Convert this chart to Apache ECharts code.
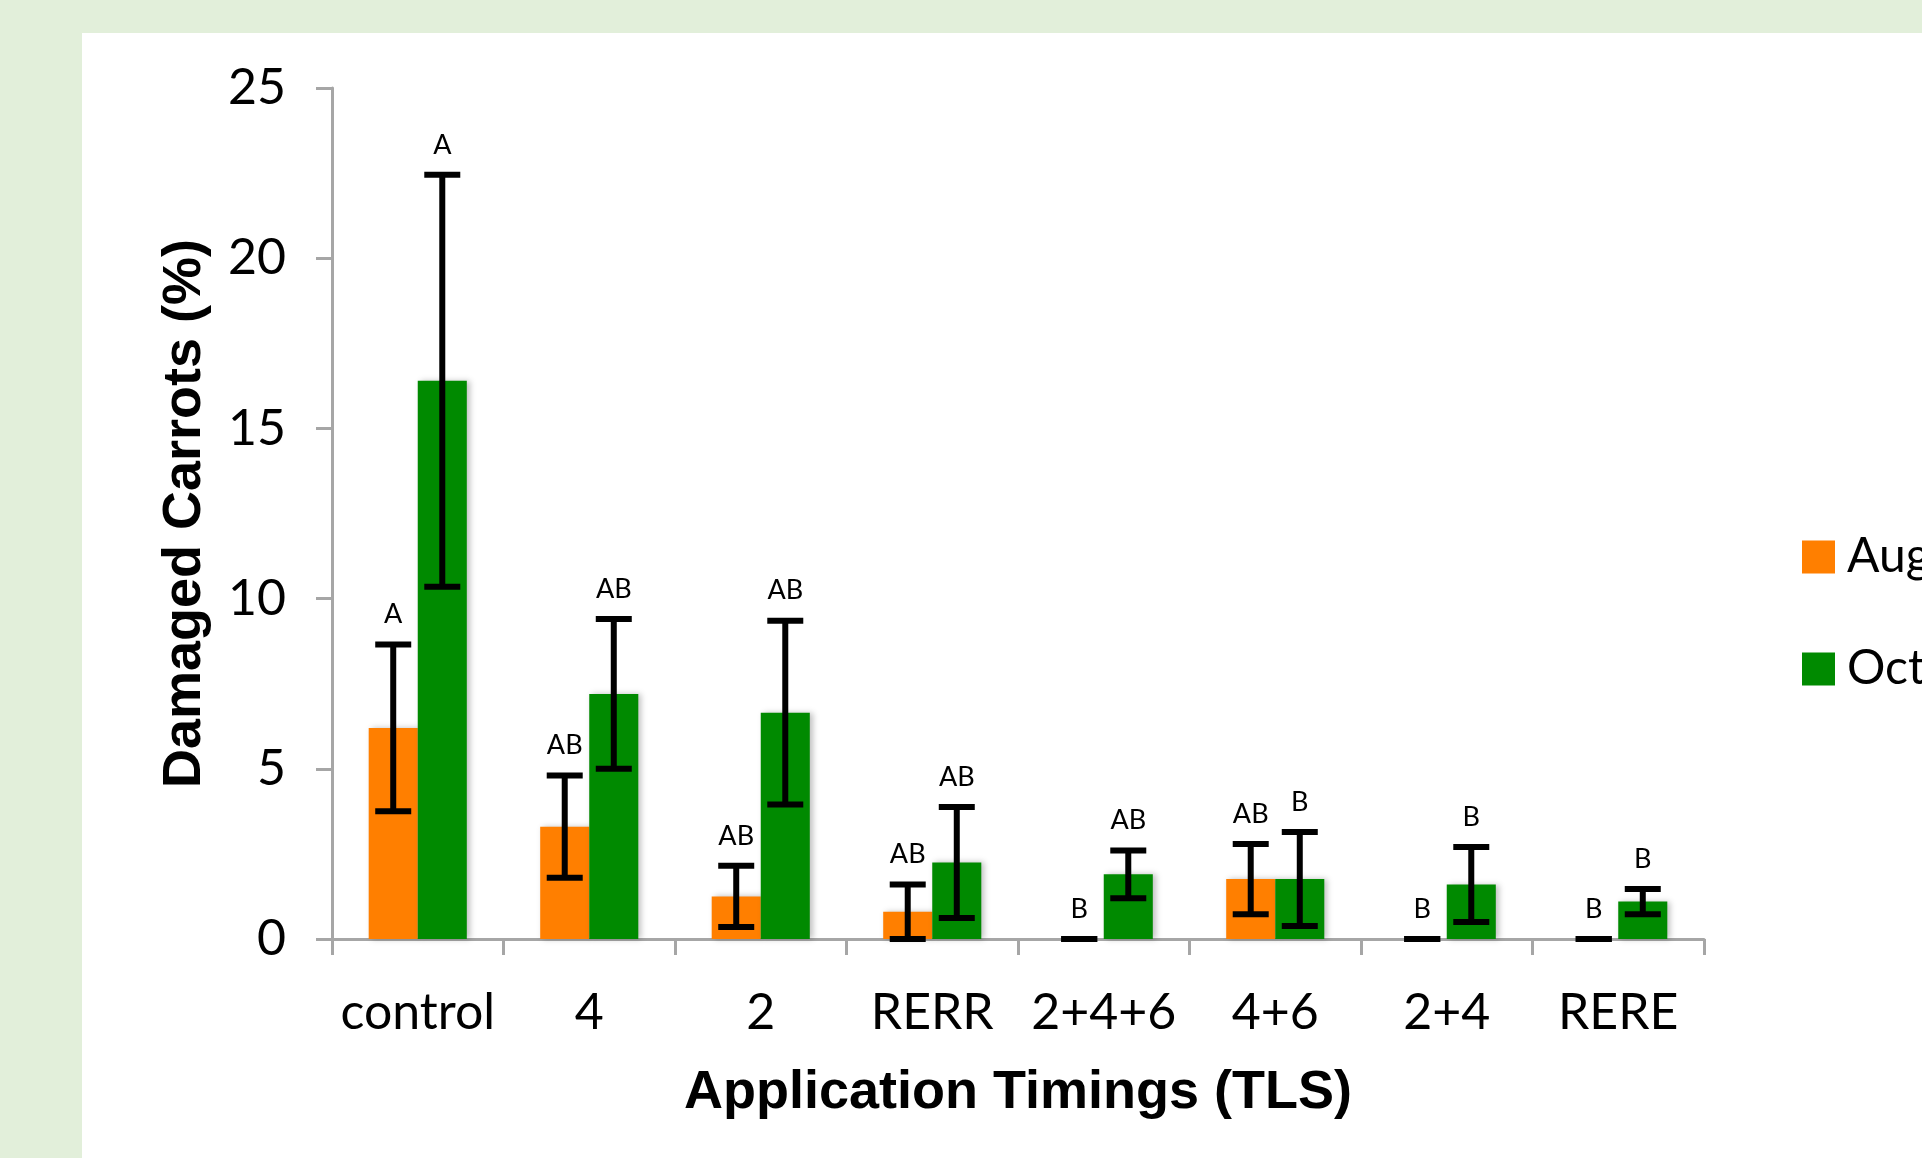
<!DOCTYPE html>
<html>
<head>
<meta charset="utf-8">
<script src="https://cdn.jsdelivr.net/npm/echarts@6/dist/echarts.min.js"></script>
<style>
html,body{margin:0;padding:0;background:#E2EFDA;}
#chart{width:1922px;height:1158px;}
</style>
</head>
<body>
<div id="chart"></div>
<script>
// ---- data ----
const categories = ['control', '4', '2', 'RERR', '2+4+6', '4+6', '2+4', 'RERE'];
const augValues  = [6.2, 3.3, 1.25, 0.8, 0, 1.76, 0, 0];
const augErrors  = [2.45, 1.5, 0.9, 0.8, 0, 1.03, 0, 0];
const augLetters = ['A', 'AB', 'AB', 'AB', 'B', 'AB', 'B', 'B'];
const octValues  = [16.4, 7.2, 6.65, 2.25, 1.9, 1.76, 1.6, 1.1];
const octErrors  = [6.05, 2.2, 2.7, 1.63, 0.7, 1.38, 1.1, 0.37];
const octLetters = ['A', 'AB', 'AB', 'AB', 'AB', 'B', 'B', 'B'];
const seriesNames = ['August', 'October'];
const yTicks = {min: 0, max: 25, interval: 5};

// ---- style ----
const BAR_FRAC = 0.286;
const ORANGE = '#FF7F00';
const GREEN = '#008A00';
const AXIS_GRAY = '#A6A6A6';

const chart = echarts.init(document.getElementById('chart'), null, {renderer: 'canvas'});

function errSeries(name, vals, errs, letters, sign) {
  return {
    type: 'custom',
    name: name + '-err',
    z: 10,
    silent: true,
    data: vals.map((v, i) => [i, v, errs[i]]),
    encode: {x: 0, y: 1},
    renderItem: function (params, api) {
      const i = api.value(0), v = api.value(1), e = api.value(2);
      const catW = api.size([1, 0])[0];
      const off = sign * catW * BAR_FRAC / 2;
      const x = api.coord([i, v])[0] + off;
      const yTop = api.coord([i, v + e])[1];
      const yBot = api.coord([i, Math.max(v - e, 0)])[1];
      const capHalf = 18;
      const st = {stroke: '#000', lineWidth: 6};
      return {
        type: 'group',
        children: [
          {type: 'line', shape: {x1: x, y1: yTop, x2: x, y2: yBot}, style: st},
          {type: 'line', shape: {x1: x - capHalf, y1: yTop, x2: x + capHalf, y2: yTop}, style: st},
          {type: 'line', shape: {x1: x - capHalf, y1: yBot, x2: x + capHalf, y2: yBot}, style: st},
          {type: 'text', x: x, y: yTop - 30,
           style: {text: letters[params.dataIndex], fill: '#000', font: '27px Lato',
                   align: 'center', verticalAlign: 'middle'}}
        ]
      };
    }
  };
}

const barShadow = {shadowBlur: 6, shadowColor: 'rgba(0,0,0,0.25)', shadowOffsetX: 3, shadowOffsetY: 0};

const option = {
  backgroundColor: '#E2EFDA',
  animation: false,
  graphic: [{
    type: 'rect', z: -10, silent: true,
    shape: {x: 82, y: 33, width: 1922 - 82, height: 1158 - 33},
    style: {fill: '#FFFFFF'}
  }],
  grid: {left: 332, right: 218, top: 88, bottom: 219, containLabel: false},
  legend: {
    orient: 'vertical',
    left: 1797, top: 528,
    itemWidth: 33, itemHeight: 33, itemGap: 64,
    icon: 'rect',
    data: seriesNames,
    itemStyle: {shadowBlur: 0, shadowOffsetX: 0},
    textStyle: {fontFamily: 'Lato', fontSize: 48, color: '#000', lineHeight: 33, padding: [6, 0, 0, 7]}
  },
  xAxis: {
    type: 'category',
    data: categories,
    name: 'Application Timings (TLS)',
    nameLocation: 'middle',
    nameGap: 127,
    nameTextStyle: {fontFamily: 'Liberation Sans', fontWeight: 'bold', fontSize: 54, color: '#000'},
    axisLine: {lineStyle: {color: AXIS_GRAY, width: 3}},
    axisTick: {show: true, length: 16, lineStyle: {color: AXIS_GRAY, width: 3}, alignWithLabel: false},
    axisLabel: {fontFamily: 'Lato', fontSize: 50, color: '#000', margin: 49, interval: 0}
  },
  yAxis: {
    type: 'value',
    min: yTicks.min, max: yTicks.max, interval: yTicks.interval,
    name: 'Damaged Carrots (%)',
    nameLocation: 'middle',
    nameGap: 120,
    nameTextStyle: {fontFamily: 'Liberation Sans', fontWeight: 'bold', fontSize: 54, color: '#000'},
    axisLine: {show: true, lineStyle: {color: AXIS_GRAY, width: 3}},
    axisTick: {show: true, length: 16, lineStyle: {color: AXIS_GRAY, width: 3}},
    splitLine: {show: false},
    axisLabel: {fontFamily: 'Lato', fontSize: 50, color: '#000', margin: 46}
  },
  series: [
    {type: 'bar', name: seriesNames[0], data: augValues, barWidth: (BAR_FRAC * 100) + '%', barGap: '0%',
     itemStyle: Object.assign({color: ORANGE}, barShadow)},
    {type: 'bar', name: seriesNames[1], data: octValues, barWidth: (BAR_FRAC * 100) + '%', barGap: '0%',
     itemStyle: Object.assign({color: GREEN}, barShadow)},
    errSeries(seriesNames[0], augValues, augErrors, augLetters, -1),
    errSeries(seriesNames[1], octValues, octErrors, octLetters, 1)
  ]
};
chart.setOption(option);
</script>
</body>
</html>
